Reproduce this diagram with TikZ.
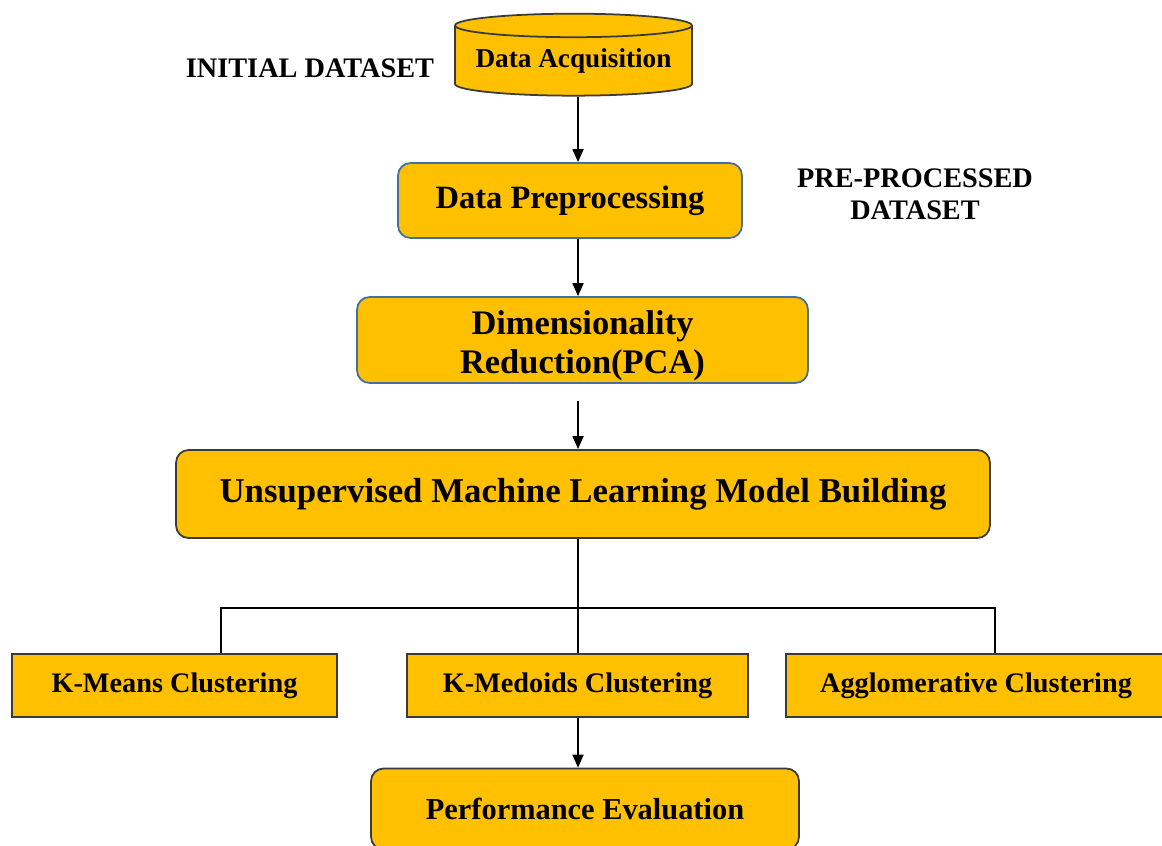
\documentclass[tikz,border=0pt]{standalone}
\usepackage{fontspec}
\setmainfont{Liberation Serif}
\usetikzlibrary{shapes.geometric,arrows.meta}
\definecolor{boxfill}{HTML}{FFC000}
\definecolor{boxblue}{HTML}{41719C}
\definecolor{boxdark}{HTML}{3A3A3A}
\tikzset{
  stage/.style={draw=boxdark, fill=boxfill, line width=1pt, rounded corners=0.25cm, align=center, inner sep=0pt},
  bluestage/.style={stage, draw=boxblue},
  method/.style={draw=boxdark, fill=boxfill, line width=1pt, inner sep=0pt, minimum height=1.26cm, font=\bfseries\fontsize{16.1}{19}\selectfont},
  flow/.style={line width=1pt, -{Triangle[width=0.22cm,length=0.26cm]}},
  link/.style={line width=1pt},
  caption/.style={font=\bfseries\fontsize{16.1}{18.2}\selectfont, align=center}
}
\begin{document}
\begin{tikzpicture}[x=0.02cm, y=-0.02cm]
  \useasboundingbox (0,0) rectangle (1162,845);
  \coordinate (spine) at (578,0);
  \node[cylinder, shape border rotate=90, aspect=0.12, draw=boxdark, fill=boxfill, line width=1pt,
        minimum width=4.74cm, minimum height=1.64cm, inner sep=0pt,
        font=\bfseries\fontsize{15.5}{18}\selectfont] (acq) at (573.5,61) {Data Acquisition};
  \node[caption] (initial) at (310,68) {INITIAL DATASET};
  \node[bluestage, minimum width=6.88cm, minimum height=1.5cm,
        font=\bfseries\fontsize{18.5}{22}\selectfont] (prep) at (570,200.5) {Data Preprocessing};
  \node[caption] (preset) at (915,194) {PRE-PROCESSED\\DATASET};
  \node[bluestage, minimum width=9.02cm, minimum height=1.72cm] (pca) at (582.5,340) {};
  \node[font=\bfseries\fontsize{19.6}{22.4}\selectfont, align=center, inner sep=0pt]
        (pcatext) at (582.5,346) {Dimensionality\\Reduction(PCA)};
  \node[stage, minimum width=16.28cm, minimum height=1.76cm,
        font=\bfseries\fontsize{19.8}{24}\selectfont] (model) at (583,494) {Unsupervised Machine Learning Model Building};
  \node[method, minimum width=6.5cm] (kmeans) at (174.5,685.5) {K-Means Clustering};
  \node[method, minimum width=6.82cm] (kmedoids) at (577.5,685.5) {K-Medoids Clustering};
  \node[method, minimum width=7.6cm] (agglo) at (976,685.5) {Agglomerative Clustering};
  \node[stage, minimum width=8.56cm, minimum height=1.62cm,
        font=\bfseries\fontsize{17.3}{21}\selectfont] (perf) at (585,809) {Performance Evaluation};

  \coordinate (pcaout) at ([yshift=-0.34cm]pca.south);
  \coordinate (leftdrop) at (221,608);
  \coordinate (rightdrop) at (995,608);
  \draw[flow] (acq.south -| spine) -- (prep.north -| spine);
  \draw[flow] (prep.south -| spine) -- (pca.north -| spine);
  \draw[flow] (pcaout -| spine) -- (model.north -| spine);
  \draw[link] (model.south -| spine) -- (kmedoids.north -| spine);
  \draw[link] (kmeans.north -| leftdrop) |- (rightdrop) -- (agglo.north -| rightdrop);
  \draw[flow] (kmedoids.south -| spine) -- (perf.north -| spine);
\end{tikzpicture}
\end{document}
